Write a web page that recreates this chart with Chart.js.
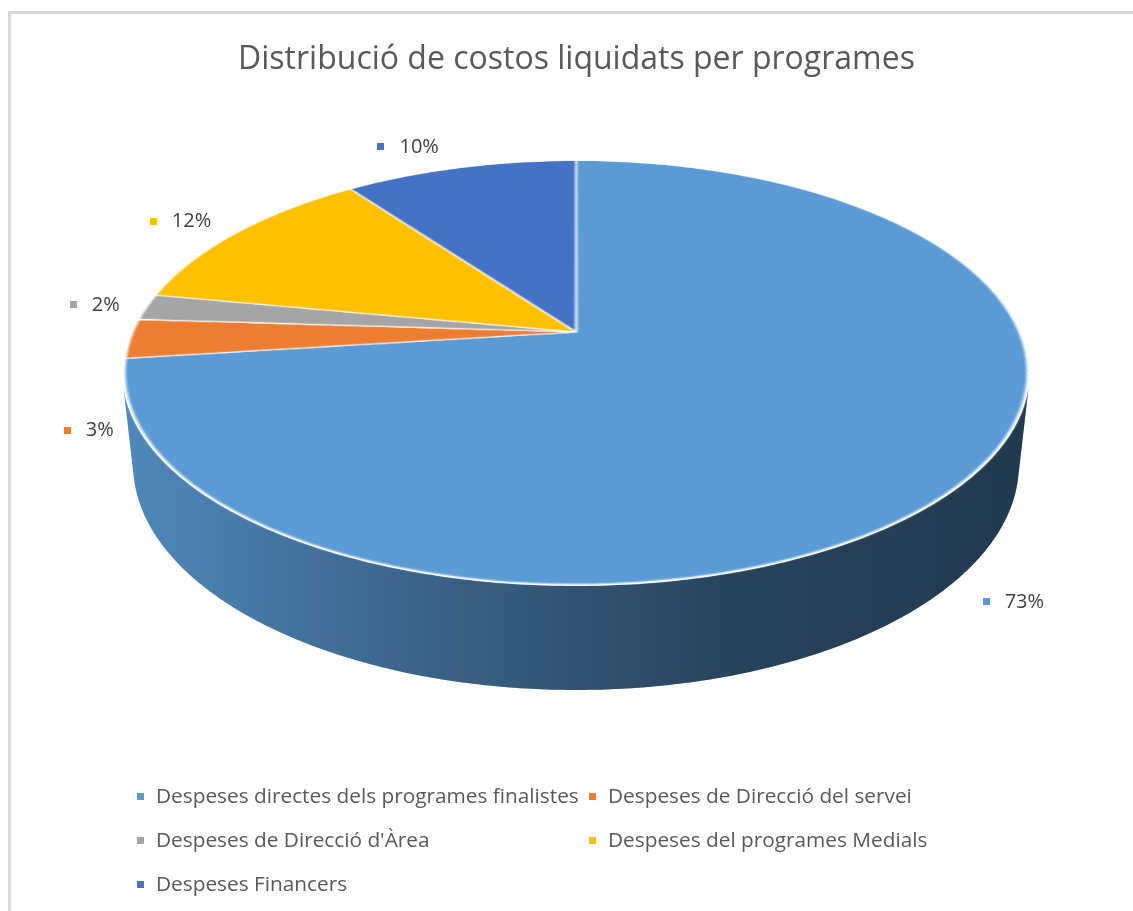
<!DOCTYPE html>
<html>
<head>
<meta charset="utf-8">
<script src="https://cdn.jsdelivr.net/npm/chart.js@4.4.1/dist/chart.umd.min.js"></script>
<style>
    html, body { margin: 0; padding: 0; background: #ffffff; }
    #wrap { position: relative; width: 1133px; height: 911px; }
</style>
</head>
<body>
<div id="wrap"><canvas id="costChart"></canvas></div>
<script>
const chartTitle = "Distribució de costos liquidats per programes";
const categories = [
    "Despeses directes dels programes finalistes",
    "Despeses de Direcció del servei",
    "Despeses de Direcció d'Àrea",
    "Despeses del programes Medials",
    "Despeses Financers"
];
const shares = [73, 3, 2, 12, 10];
const sliceColors = ["#5B9BD5", "#ED7D31", "#A5A5A5", "#FFC000", "#4472C4"];

const FONT = "'Open Sans', Lato, sans-serif";

// camera used to tilt the flat Chart.js pie into a 3D disc
const cam = { cx: 576, cy: 332, focal: 2052, dist: 4.61, sin: 0.4607, cos: 0.8876, depth: 0.2337 };

function project(x, y, z) {
    const w = cam.dist - y * cam.sin - z * cam.cos;
    return {
        x: cam.cx + cam.focal * x / w,
        y: cam.cy - cam.focal * (y * cam.cos - z * cam.sin) / w
    };
}

function zAtRow(y) {
    const t = y - cam.cy;
    return t * cam.dist / (cam.focal * cam.sin + t * cam.cos);
}

function drawSides(ctx, arcs) {
    const lim = Math.asin(1 / (cam.dist * cam.cos));
    const lo = lim, hi = Math.PI - lim;
    const xl = project(Math.cos(hi), 0, Math.sin(hi)).x;
    const xr = project(Math.cos(lo), 0, Math.sin(lo)).x;
    const shade = ctx.createLinearGradient(xl, 0, xr, 0);
    shade.addColorStop(0, "rgba(0,0,0,0.12)");
    shade.addColorStop(0.33, "rgba(0,0,0,0.36)");
    shade.addColorStop(0.68, "rgba(0,0,0,0.57)");
    shade.addColorStop(1, "rgba(0,0,0,0.63)");

    arcs.forEach(arc => {
        for (let k = -1; k <= 1; k++) {
            const s = Math.max(arc.startAngle + k * 2 * Math.PI, lo);
            const e = Math.min(arc.endAngle + k * 2 * Math.PI, hi);
            if (e <= s) continue;
            const n = Math.max(2, Math.ceil((e - s) / 0.01));
            ctx.beginPath();
            for (let i = 0; i <= n; i++) {
                const a = s + (e - s) * i / n;
                const p = project(Math.cos(a), 0, Math.sin(a));
                i === 0 ? ctx.moveTo(p.x, p.y) : ctx.lineTo(p.x, p.y);
            }
            for (let i = n; i >= 0; i--) {
                const a = s + (e - s) * i / n;
                const p = project(Math.cos(a), -cam.depth, Math.sin(a));
                ctx.lineTo(p.x, p.y);
            }
            ctx.closePath();
            ctx.fillStyle = arc.options.backgroundColor;
            ctx.fill();
            ctx.fillStyle = shade;
            ctx.fill();
        }
    });
}

const tiltPlugin = {
    id: "tiltPie",
    afterDatasetsDraw(chart) {
        const ctx = chart.ctx;
        const arcs = chart.getDatasetMeta(0).data;
        if (!arcs.length) return;
        const sx = arcs[0].x, sy = arcs[0].y;
        const R = arcs[0].outerRadius + 1;
        const pad = 2;
        const size = Math.ceil(2 * R + 2 * pad);

        // copy the flat pie drawn by Chart.js
        const off = document.createElement("canvas");
        off.width = size;
        off.height = size;
        off.getContext("2d").drawImage(chart.canvas, sx - R - pad, sy - R - pad, size, size, 0, 0, size, size);

        // wipe both the flat pie and the area of the tilted one
        let minX = sx - R - pad, maxX = sx + R + pad, minY = sy - R - pad, maxY = sy + R + pad;
        for (let a = 0; a < 2 * Math.PI; a += 0.02) {
            [0, -cam.depth].forEach(h => {
                const p = project(Math.cos(a), h, Math.sin(a));
                minX = Math.min(minX, p.x); maxX = Math.max(maxX, p.x);
                minY = Math.min(minY, p.y); maxY = Math.max(maxY, p.y);
            });
        }
        ctx.save();
        ctx.clearRect(minX - 3, minY - 3, maxX - minX + 6, maxY - minY + 6);

        drawSides(ctx, arcs);

        // redraw the top face row by row in perspective
        const yTop = project(0, 0, -1).y, yBot = project(0, 0, 1).y;
        ctx.imageSmoothingEnabled = true;
        for (let y = Math.floor(yTop); y < Math.ceil(yBot); y++) {
            const z0 = Math.max(-1, zAtRow(y)), z1 = Math.min(1, zAtRow(y + 1));
            if (z1 <= z0) continue;
            const zm = (z0 + z1) / 2;
            const half = cam.focal / (cam.dist - zm * cam.cos);
            ctx.drawImage(off, pad, pad + (z0 + 1) * R, 2 * R, (z1 - z0) * R, cam.cx - half, y, 2 * half, 1);
        }
        ctx.restore();
    },
    afterDraw(chart) {
        const ctx = chart.ctx;
        const arcs = chart.getDatasetMeta(0).data;
        const total = shares.reduce((a, b) => a + b, 0);
        ctx.save();

        // outer frame
        ctx.strokeStyle = "#D9D9D9";
        ctx.lineWidth = 3;
        ctx.strokeRect(9.5, 12.5, chart.width + 20, chart.height + 20);

        // data labels
        ctx.font = "20px " + FONT;
        ctx.textBaseline = "middle";
        ctx.textAlign = "left";
        arcs.forEach((arc, i) => {
            const mid = (arc.startAngle + arc.endAngle) / 2;
            const X = Math.cos(mid), Z = Math.sin(mid);
            const a = project(X, Z > 0 ? -cam.depth : 0, Z);
            const text = Math.round(shares[i] / total * 100) + "%";
            const bw = 22 + ctx.measureText(text).width;
            const gap = X < 0 ? 25 - 6 * (1 - Math.abs(X)) : 34;
            const left = X < 0 ? a.x - gap - bw : a.x + gap;
            const cyl = a.y + 22 * Z;
            ctx.fillStyle = sliceColors[i];
            ctx.fillRect(Math.round(left), Math.round(cyl - 3), 7, 7);
            ctx.fillStyle = "#404040";
            ctx.fillText(text, left + 22, cyl + 1);
        });

        // legend in a two column grid
        const items = chart.options.plugins.legend.labels.generateLabels(chart);
        const colX = [137, 589];
        const rowY = [797, 841, 885];
        ctx.font = "20.8px " + FONT;
        items.forEach((item, i) => {
            const x = colX[i % 2], y = rowY[Math.floor(i / 2)];
            ctx.fillStyle = item.fillStyle;
            ctx.fillRect(x, y - 4, 7, 7);
            ctx.fillStyle = "#595959";
            ctx.fillText(item.text, x + 19, y);
        });
        ctx.restore();
    }
};

new Chart(document.getElementById("costChart"), {
    type: "pie",
    data: {
        labels: categories,
        datasets: [{
            data: shares,
            backgroundColor: sliceColors,
            borderColor: "#FFFFFF",
            borderWidth: 1.3,
            hoverOffset: 0
        }]
    },
    options: {
        responsive: true,
        maintainAspectRatio: false,
        devicePixelRatio: 1,
        animation: false,
        events: [],
        radius: 250,
        layout: { padding: { top: 0, bottom: 150, left: 20, right: 0 } },
        plugins: {
            legend: { display: false },
            tooltip: { enabled: false },
            title: {
                display: true,
                text: chartTitle,
                color: "#595959",
                font: { family: FONT, size: 32, weight: "normal" },
                padding: { top: 41, bottom: 10 }
            }
        }
    },
    plugins: [tiltPlugin]
});
</script>
</body>
</html>
